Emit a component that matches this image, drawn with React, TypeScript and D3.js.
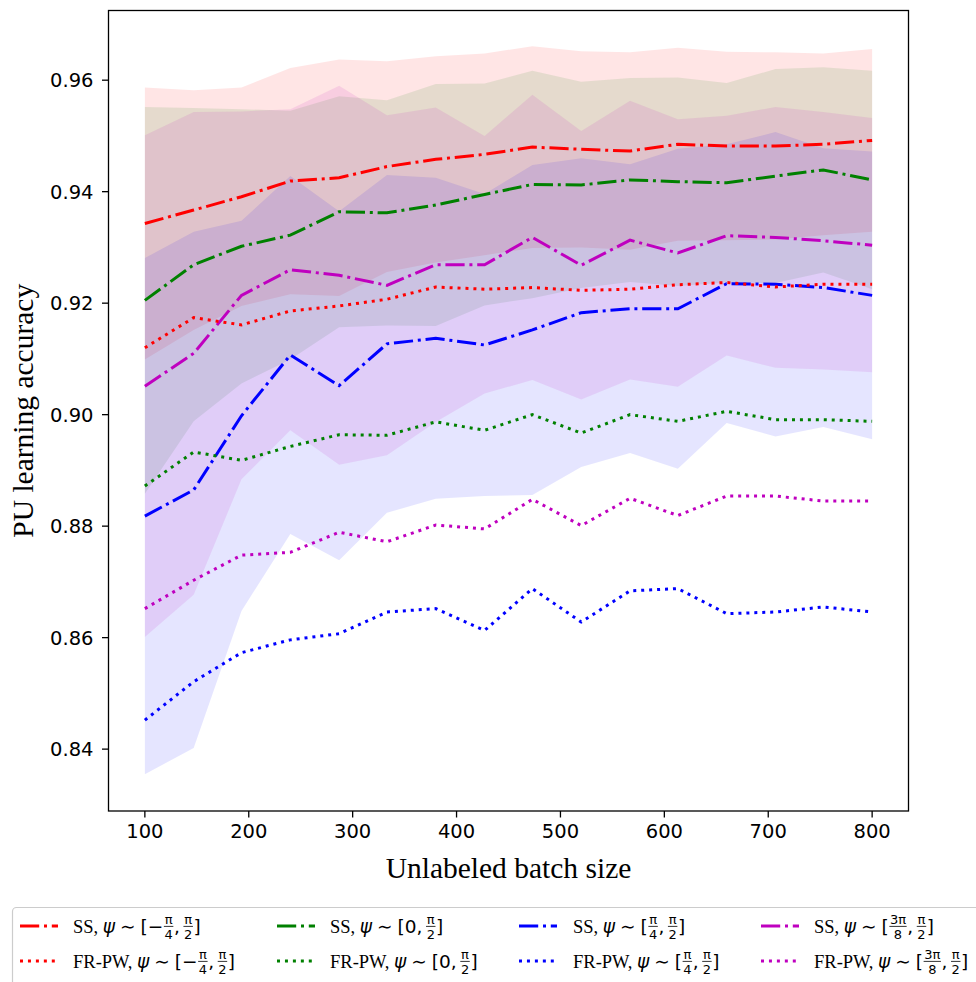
import React, { useEffect, useRef } from 'react';
import * as d3 from 'd3';

// Unlabeled batch sizes on the x axis
const batchSizes = [100, 147, 193, 240, 287, 333, 380, 427, 473, 520, 567, 613, 660, 707, 753, 800];

// SS accuracy (mean) and spread (std) for each ψ range
const ssNegQuarter = [0.9343, 0.9367, 0.9391, 0.9419, 0.9425, 0.9445, 0.9458, 0.9467, 0.948, 0.9476, 0.9473, 0.9485, 0.9482, 0.9482, 0.9485, 0.9492];
const ssNegQuarterStd = [0.0244, 0.0215, 0.0196, 0.0203, 0.0212, 0.0189, 0.0185, 0.0181, 0.0181, 0.0176, 0.0177, 0.0173, 0.0169, 0.0168, 0.0163, 0.0164];
const ssZero = [0.9205, 0.9269, 0.9302, 0.9322, 0.9364, 0.9362, 0.9376, 0.9395, 0.9413, 0.9412, 0.9421, 0.9418, 0.9416, 0.9428, 0.9439, 0.9421];
const ssZeroStd = [0.0347, 0.0281, 0.0246, 0.0223, 0.0207, 0.0202, 0.0217, 0.0199, 0.0204, 0.0185, 0.0183, 0.0187, 0.0179, 0.0192, 0.0184, 0.0196];
const ssQuarter = [0.8818, 0.8865, 0.8998, 0.9107, 0.9052, 0.9127, 0.9137, 0.9125, 0.9152, 0.9183, 0.919, 0.919, 0.9235, 0.9234, 0.9228, 0.9214];
const ssQuarterStd = [0.0463, 0.0463, 0.035, 0.0321, 0.0313, 0.0303, 0.0288, 0.0271, 0.0296, 0.0277, 0.0259, 0.0287, 0.025, 0.0273, 0.025, 0.0258];
const ssThreeEighths = [0.9051, 0.911, 0.9214, 0.926, 0.925, 0.9232, 0.9269, 0.9269, 0.9318, 0.9268, 0.9313, 0.929, 0.9321, 0.9318, 0.9312, 0.9304];
const ssThreeEighthsStd = [0.045, 0.0433, 0.033, 0.0288, 0.034, 0.0305, 0.0282, 0.0231, 0.0256, 0.0241, 0.025, 0.024, 0.0215, 0.0234, 0.0231, 0.0228];

// FR-PW accuracy for each ψ range
const frNegQuarter = [0.912, 0.9174, 0.9161, 0.9186, 0.9195, 0.9207, 0.9229, 0.9225, 0.9228, 0.9223, 0.9225, 0.9233, 0.9237, 0.9229, 0.9234, 0.9234];
const frZero = [0.8872, 0.8933, 0.8918, 0.8943, 0.8964, 0.8963, 0.8987, 0.8972, 0.9, 0.8967, 0.9, 0.8988, 0.9006, 0.8991, 0.8991, 0.8988];
const frQuarter = [0.8452, 0.8521, 0.8573, 0.8596, 0.8607, 0.8646, 0.8652, 0.8613, 0.8688, 0.8628, 0.8684, 0.8688, 0.8643, 0.8646, 0.8655, 0.8646];
const frThreeEighths = [0.8652, 0.8703, 0.8748, 0.8753, 0.8789, 0.8772, 0.8802, 0.8795, 0.8848, 0.8801, 0.885, 0.8819, 0.8854, 0.8854, 0.8845, 0.8845];

const yTicks = [0.84, 0.86, 0.88, 0.9, 0.92, 0.94, 0.96];
const xTicks = [100, 200, 300, 400, 500, 600, 700, 800];

// ψ range lower bounds: optional minus sign and a fraction, or a plain value
type Lower = { minus?: boolean; num?: string; den?: string; plain?: string };
const psiLower: Lower[] = [
  { minus: true, num: 'π', den: '4' },
  { plain: '0' },
  { num: 'π', den: '4' },
  { num: '3π', den: '8' },
];
const methods = ['SS', 'FR-PW'];
const colors = ['#ff0000', '#008000', '#0000ff', '#bf00bf'];

const ssMeans = [ssNegQuarter, ssZero, ssQuarter, ssThreeEighths];
const ssStds = [ssNegQuarterStd, ssZeroStd, ssQuarterStd, ssThreeEighthsStd];
const frMeans = [frNegQuarter, frZero, frQuarter, frThreeEighths];

const W = 976;
const H = 982;
const M = { left: 108.5, right: 908.5, top: 10.5, bottom: 811 };
const SANS = 'DejaVu Sans';
const SERIF = '"Liberation Serif", "Times New Roman", serif';
const LW = 3;
const DASHDOT = `${6.4 * LW},${1.6 * LW},${LW},${1.6 * LW}`;
const DOTTED = `${LW},${1.65 * LW}`;

export default function App() {
  const ref = useRef<SVGSVGElement>(null);

  useEffect(() => {
    const svg = d3.select(ref.current);
    svg.selectAll('*').remove();

    const x = d3.scaleLinear().domain([65, 835]).range([M.left, M.right]);
    const y = d3.scaleLinear().domain([0.8289, 0.9725]).range([M.bottom, M.top]);

    // mean ± std bands for the SS runs
    ssMeans.forEach((mean, k) => {
      const std = ssStds[k];
      const band = d3
        .area<number>()
        .x((_, i) => x(batchSizes[i]))
        .y0((d, i) => y(d - std[i]))
        .y1((d, i) => y(d + std[i]));
      svg.append('path').attr('d', band(mean)).attr('fill', colors[k]).attr('fill-opacity', 0.1).attr('stroke', 'none');
    });

    const line = d3
      .line<number>()
      .x((_, i) => x(batchSizes[i]))
      .y((d) => y(d));

    ssMeans.forEach((mean, k) => {
      svg.append('path').attr('d', line(mean)).attr('fill', 'none').attr('stroke', colors[k])
        .attr('stroke-width', LW).attr('stroke-dasharray', DASHDOT);
    });
    frMeans.forEach((mean, k) => {
      svg.append('path').attr('d', line(mean)).attr('fill', 'none').attr('stroke', colors[k])
        .attr('stroke-width', LW).attr('stroke-dasharray', DOTTED);
    });

    // axes frame
    svg.append('rect').attr('x', M.left).attr('y', M.top).attr('width', M.right - M.left)
      .attr('height', M.bottom - M.top).attr('fill', 'none').attr('stroke', '#000').attr('stroke-width', 1.3);

    // y axis ticks
    const yg = svg.append('g');
    yTicks.forEach((t) => {
      yg.append('line').attr('x1', M.left - 6.5).attr('x2', M.left).attr('y1', y(t)).attr('y2', y(t))
        .attr('stroke', '#000').attr('stroke-width', 1.3);
      yg.append('text').attr('x', M.left - 15).attr('y', y(t)).attr('dy', '0.36em')
        .attr('text-anchor', 'end').attr('font-family', SANS).attr('font-size', 19.5).text(t.toFixed(2));
    });
    // x axis ticks
    const xg = svg.append('g');
    xTicks.forEach((t) => {
      xg.append('line').attr('x1', x(t)).attr('x2', x(t)).attr('y1', M.bottom).attr('y2', M.bottom + 6.5)
        .attr('stroke', '#000').attr('stroke-width', 1.3);
      xg.append('text').attr('x', x(t)).attr('y', M.bottom + 27).attr('text-anchor', 'middle')
        .attr('font-family', SANS).attr('font-size', 19.5).text(String(t));
    });

    // axis titles
    svg.append('text').attr('x', (M.left + M.right) / 2).attr('y', 878).attr('text-anchor', 'middle')
      .attr('font-family', SERIF).attr('font-size', 29.5).text('Unlabeled batch size');
    svg.append('text').attr('transform', `translate(33,${(M.top + M.bottom) / 2}) rotate(-90)`)
      .attr('text-anchor', 'middle').attr('font-family', SERIF).attr('font-size', 29.5).text('PU learning accuracy');

    // legend
    const lg = svg.append('g');
    lg.append('rect').attr('x', 12.5).attr('y', 907.5).attr('width', 990).attr('height', 100).attr('rx', 4)
      .attr('fill', '#fff').attr('fill-opacity', 0.8).attr('stroke', '#cccccc').attr('stroke-width', 1.2);

    const colHandle = [20, 277, 519, 761];
    const colText = [73, 330, 573, 814];
    const rowBase = [933, 968];
    const FS = 18.5;
    const FR = 13;

    const addText = (g: any, cx: number, base: number, txt: string, family: string, size: number, italic = false) => {
      const t = g.append('text').attr('x', cx).attr('y', base).attr('font-family', family).attr('font-size', size)
        .attr('font-style', italic ? 'italic' : 'normal').text(txt);
      return (t.node() as SVGTextElement).getComputedTextLength();
    };
    const addFrac = (g: any, cx: number, base: number, num: string, den: string) => {
      const axis = base - 6.6;
      const n = g.append('text').attr('font-family', SANS).attr('font-size', FR).text(num);
      const d = g.append('text').attr('font-family', SANS).attr('font-size', FR).text(den);
      const wn = (n.node() as SVGTextElement).getComputedTextLength();
      const wd = (d.node() as SVGTextElement).getComputedTextLength();
      const w = Math.max(wn, wd) + 2.4;
      n.attr('x', cx + w / 2).attr('y', axis - 2.8).attr('text-anchor', 'middle');
      d.attr('x', cx + w / 2).attr('y', axis + 12.6).attr('text-anchor', 'middle');
      g.append('line').attr('x1', cx + 0.6).attr('x2', cx + w - 0.6).attr('y1', axis).attr('y2', axis)
        .attr('stroke', '#000').attr('stroke-width', 0.8);
      return w;
    };

    const drawLabel = (g: any, x0: number, base: number, method: string, k: number) => {
      let cx = x0;
      cx += addText(g, cx, base, method + ',', SERIF, FS) + 4.6;
      cx += addText(g, cx, base, 'ψ', SANS, FS, true) + 5;
      cx += addText(g, cx, base, '∼', SANS, FS) + 5;
      cx += addText(g, cx, base, '[', SANS, FS);
      const lo = psiLower[k];
      if (lo.plain) {
        cx += addText(g, cx, base, lo.plain, SANS, FS);
      } else {
        if (lo.minus) cx += addText(g, cx, base, '−', SANS, FS);
        cx += addFrac(g, cx, base, lo.num!, lo.den!);
      }
      cx += addText(g, cx, base, ',', SANS, FS) + 3;
      cx += addFrac(g, cx, base, 'π', '2');
      addText(g, cx, base, ']', SANS, FS);
    };

    methods.forEach((method, r) => {
      colors.forEach((c, k) => {
        const hy = rowBase[r] - 7;
        lg.append('line').attr('x1', colHandle[k]).attr('x2', colHandle[k] + 38).attr('y1', hy).attr('y2', hy)
          .attr('stroke', c).attr('stroke-width', LW).attr('stroke-dasharray', r === 0 ? DASHDOT : DOTTED);
        drawLabel(lg, colText[k], rowBase[r], method, k);
      });
    });
  }, []);

  return (
    <svg
      ref={ref}
      width={W}
      height={H}
      viewBox={`0 0 ${W} ${H}`}
      style={{ position: 'absolute', left: 0, top: 0, display: 'block', background: '#fff' }}
    />
  );
}
